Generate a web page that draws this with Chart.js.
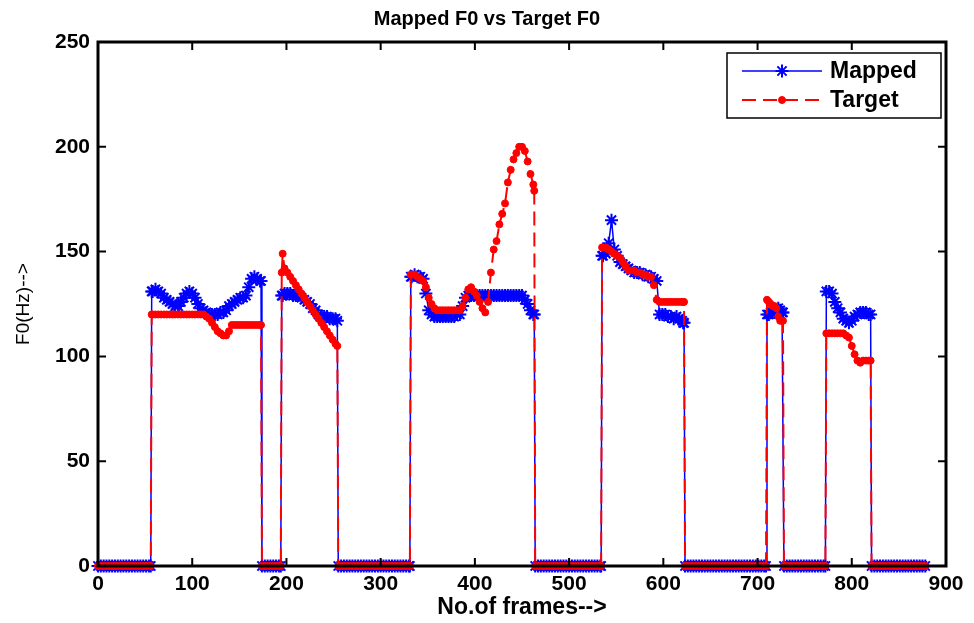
<!DOCTYPE html>
<html>
<head>
<meta charset="utf-8">
<title>Mapped F0 vs Target F0</title>
<script src="https://cdn.jsdelivr.net/npm/chart.js@4.4.1/dist/chart.umd.min.js"></script>
<style>
  html, body { margin: 0; padding: 0; background: #fff; }
</style>
</head>
<body>
<canvas id="Diagramm" width="974" height="623"></canvas>
<script>
// frame numbers (x) shared by both curves
var frames = [
  0,3,6,9,12,15,18,21,24,27,30,33,36,39,42,45,48,51,54,56,
  57,58,61,64,67,70,73,76,79,82,85,88,91,94,97,100,103,106,109,112,115,118,121,124,127,130,133,136,139,142,145,148,151,154,157,160,163,166,169,172,173,
  174,177,180,183,186,189,192,194,
  195,196,198,201,204,207,210,213,216,219,222,225,228,231,234,237,240,243,246,249,252,254,
  255,258,261,264,267,270,273,276,279,282,285,288,291,294,297,300,303,306,309,312,315,318,321,324,327,330,331,
  332,333,336,339,342,345,348,351,354,357,360,363,366,369,372,375,378,381,384,387,390,393,396,399,402,405,408,411,414,417,420,423,426,429,432,435,438,441,444,447,450,453,456,459,462,463,
  464,467,470,473,476,479,482,485,488,491,494,497,500,503,506,509,512,515,518,521,524,527,530,533,534,
  535,536,539,542,545,548,551,554,557,560,563,566,569,572,575,578,581,584,587,590,593,596,599,602,605,608,611,614,617,620,621,622,
  623,626,629,632,635,638,641,644,647,650,653,656,659,662,665,668,671,674,677,680,683,686,689,692,695,698,701,704,707,709,
  710,712,714,716,718,720,722,724,726,727,
  728,731,734,737,740,743,746,749,752,755,758,761,764,767,770,772,
  773,776,779,782,785,788,791,794,797,800,803,806,809,812,815,818,820,
  821,824,827,830,833,836,839,842,845,848,851,854,857,860,863,866,869,872,875,878
];

// mapped F0 (Hz)
var mappedF0 = [
  0,0,0,0,0,0,0,0,0,0, 0,0,0,0,0,0,0,0,0,0,
  131,131,132,131,130,128,127,126,125,124,124,126,128,130,131,130,128,125,123,122,121,120,120,120,120,121,121,122,124,125,126,127,128,128,129,133,137,138,137,136,136,
  0,0,0,0,0,0,0,0,
  129,129,130,130,130,129,129,129,128,127,126,125,123,122,120,119,119,119,118,118,118,117,
  0,0,0,0,0,0,0,0,0,0, 0,0,0,0,0,0,0,0,0,0, 0,0,0,0,0,0,0,
  138,138,139,138,138,137,130,122,120,119,119,119,119,119,119,119,119,120,120,124,128,
  129,129,129,129,129,129,129,129,129,129,129,129,129,129,129,129,129,129,129,129,
  127,125,122,120,120,
  0,0,0,0,0,0,0,0,0,0, 0,0,0,0,0,0,0,0,0,0, 0,0,0,0,0,
  148,148,149,154,165,151,148,145,144,143,142,141,140,140,140,139,139,138,138,137,136,120,120,120,119,119,118,119,118,117,116,116,
  0,0,0,0,0,0,0,0,0,0, 0,0,0,0,0,0,0,0,0,0, 0,0,0,0,0,0,0,0,0,0,
  120,120,121,121,121,122,123,122,121,121,
  0,0,0,0,0,0,0,0,0,0, 0,0,0,0,0,0,
  131,131,130,126,123,121,118,117,116,117,119,120,121,121,121,120,120,
  0,0,0,0,0,0,0,0,0,0, 0,0,0,0,0,0,0,0,0,0
];

// target F0 (Hz)
var targetF0 = [
  0,0,0,0,0,0,0,0,0,0, 0,0,0,0,0,0,0,0,0,0,
  120,120,120,120,120,120,120,120,120,120,120,120,120,120,120,120,120,120,120,120,
  119,118,116,114,112,111,110,110,112,115,115,
  115,115,115,115,115,115,115,115,115,115,
  0,0,0,0,0,0,0,0,
  140,149,142,140,138,136,134,132,130,128,126,124,122,120,118,116,114,112,110,108,106,105,
  0,0,0,0,0,0,0,0,0,0, 0,0,0,0,0,0,0,0,0,0, 0,0,0,0,0,0,0,
  139,139,139,138,137,136,133,128,125,123,122,122,122,122,122,122,122,122,122,
  124,128,132,133,131,129,126,123,121,126,140,151,155,163,168,173,183,189,194,197,200,200,198,193,187,182,179,
  0,0,0,0,0,0,0,0,0,0, 0,0,0,0,0,0,0,0,0,0, 0,0,0,0,0,
  152,152,152,151,150,149,148,147,145,143,141,141,141,140,140,139,139,138,138,134,127,
  126,126,126,126,126,126,126,126,126,126,126,
  0,0,0,0,0,0,0,0,0,0, 0,0,0,0,0,0,0,0,0,0, 0,0,0,0,0,0,0,0,0,0,
  127,126,125,124,124,123,119,117,117,117,
  0,0,0,0,0,0,0,0,0,0, 0,0,0,0,0,0,
  111,111,111,111,111,111,111,110,109,105,101,98,97,98,98,98,98,
  0,0,0,0,0,0,0,0,0,0, 0,0,0,0,0,0,0,0,0,0
];

var xTicks = [0, 100, 200, 300, 400, 500, 600, 700, 800, 900];
var yTicks = [0, 50, 100, 150, 200, 250];
var serienNamen = ['Mapped', 'Target'];

var schrift = "'Liberation Sans', Arial, sans-serif";

function punkte(werte) {
  var p = [];
  for (var i = 0; i < frames.length; i++) {
    p.push({x: frames[i], y: werte[i]});
  }
  return p;
}

// box with inner ticks (matlab style) + legend inside the axes
var rahmenPlugin = {
  id: 'rahmen',
  afterDraw: function(chart) {
    var ctx = chart.ctx, a = chart.chartArea;
    var sx = chart.scales.x, sy = chart.scales.y;
    ctx.save();
    ctx.strokeStyle = '#000';
    ctx.lineWidth = 2;
    ctx.beginPath();
    xTicks.forEach(function(v) {
      var px = sx.getPixelForValue(v);
      ctx.moveTo(px, a.bottom); ctx.lineTo(px, a.bottom - 8);
      ctx.moveTo(px, a.top); ctx.lineTo(px, a.top + 8);
    });
    yTicks.forEach(function(v) {
      var py = sy.getPixelForValue(v);
      ctx.moveTo(a.left, py); ctx.lineTo(a.left + 8, py);
      ctx.moveTo(a.right, py); ctx.lineTo(a.right - 8, py);
    });
    ctx.stroke();
    ctx.lineWidth = 3;
    ctx.strokeRect(a.left, a.top, a.right - a.left, a.bottom - a.top);

    // legend
    var bx = a.right - 219, by = a.top + 11, bw = 214, bh = 65;
    ctx.fillStyle = '#fff';
    ctx.fillRect(bx, by, bw, bh);
    ctx.lineWidth = 1.5;
    ctx.strokeRect(bx, by, bw, bh);
    chart.data.datasets.forEach(function(ds, i) {
      var ly = by + 18 + i * 29;
      ctx.save();
      ctx.strokeStyle = ds.borderColor;
      ctx.lineWidth = ds.borderWidth;
      ctx.setLineDash(ds.borderDash || []);
      ctx.beginPath();
      ctx.moveTo(bx + 15, ly); ctx.lineTo(bx + 95, ly);
      ctx.stroke();
      ctx.setLineDash([]);
      ctx.fillStyle = ds.pointBackgroundColor;
      ctx.strokeStyle = ds.pointBorderColor;
      ctx.lineWidth = ds.pointBorderWidth;
      Chart.helpers.drawPoint(ctx, {pointStyle: ds.pointStyle, radius: ds.pointRadius, rotation: 0, borderWidth: ds.pointBorderWidth}, bx + 55, ly);
      ctx.restore();
      ctx.fillStyle = '#000';
      ctx.font = 'bold 23px ' + schrift;
      ctx.textBaseline = 'middle';
      ctx.textAlign = 'left';
      ctx.fillText(ds.label, bx + 103, ly + 1);
    });
    ctx.restore();
  }
};

const CHART = document.getElementById('Diagramm');

let f0Diagramm = new Chart(CHART, {
  type: 'scatter',
  data: {
    datasets: [{
      label: serienNamen[0],
      data: punkte(mappedF0),
      showLine: true,
      borderColor: '#0000ff',
      borderWidth: 1.5,
      pointStyle: 'star',
      pointRadius: 6.5,
      pointBorderWidth: 2,
      pointBorderColor: '#0000ff',
      pointBackgroundColor: '#0000ff',
      clip: false,
      order: 1
    }, {
      label: serienNamen[1],
      data: punkte(targetF0),
      showLine: true,
      borderColor: '#ff0000',
      borderWidth: 2,
      borderDash: [14, 7],
      pointStyle: 'circle',
      pointRadius: 3.5,
      pointBorderWidth: 1,
      pointBorderColor: '#ff0000',
      pointBackgroundColor: '#ff0000',
      clip: false,
      order: 0
    }]
  },
  options: {
    responsive: false,
    animation: false,
    events: [],
    layout: { padding: 0 },
    plugins: {
      legend: { display: false },
      tooltip: { enabled: false },
      title: {
        display: true,
        text: 'Mapped F0 vs Target F0',
        color: '#000',
        font: { family: schrift, size: 20, weight: 'bold' },
        padding: { top: 7, bottom: 11 }
      }
    },
    scales: {
      x: {
        type: 'linear',
        min: 0, max: 900,
        afterBuildTicks: function(s) { s.ticks = xTicks.map(function(v) { return {value: v}; }); },
        grid: { display: false, drawTicks: false },
        border: { display: false },
        ticks: { color: '#000', padding: 6, maxRotation: 0, font: { family: schrift, size: 21, weight: 'bold' } },
        title: {
          display: true, text: 'No.of frames-->', color: '#000',
          font: { family: schrift, size: 23, weight: 'bold' },
          padding: { top: 0, bottom: 2 }
        },
        afterFit: function(s) { s.height = 57; }
      },
      y: {
        type: 'linear',
        min: 0, max: 250,
        afterBuildTicks: function(s) { s.ticks = yTicks.map(function(v) { return {value: v}; }); },
        grid: { display: false, drawTicks: false },
        border: { display: false },
        ticks: { color: '#000', padding: 8, font: { family: schrift, size: 21, weight: 'bold' } },
        title: {
          display: true, text: 'F0(Hz)-->', color: '#000',
          font: { family: schrift, size: 19, weight: 'normal' },
          padding: { top: 12, bottom: 0 }
        },
        afterFit: function(s) { s.width = 98; }
      },
      rechts: {
        type: 'linear',
        position: 'right',
        display: true,
        grid: { display: false, drawTicks: false },
        border: { display: false },
        ticks: { display: false },
        afterFit: function(s) { s.width = 28; }
      }
    }
  },
  plugins: [rahmenPlugin]
});
</script>
</body>
</html>
